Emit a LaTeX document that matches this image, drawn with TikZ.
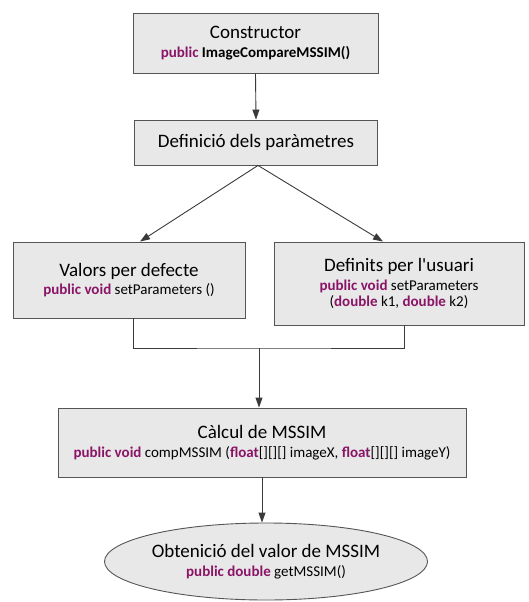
\documentclass[tikz,border=0pt]{standalone}
\usepackage{fontspec}
\setmainfont{Carlito}
\newfontfamily\plainquote{Carlito}[Ligatures=ResetAll]
\usetikzlibrary{arrows.meta,shapes.geometric}
\definecolor{kw}{HTML}{8A1466}
\definecolor{boxfill}{HTML}{E8E8E8}
\definecolor{boxline}{HTML}{555555}
\definecolor{wire}{HTML}{3A3A3A}
\newcommand{\kwd}[1]{\textbf{\textcolor{kw}{#1}}}
\newcommand{\ttl}[1]{{\fontsize{19}{19}\selectfont #1}}
\newcommand{\squote}{{\plainquote\symbol{39}}}
\tikzset{
  stepbox/.style={draw=boxline, fill=boxfill, line width=0.9pt, align=center,
    inner sep=2pt, font=\fontsize{15}{18.5}\selectfont},
  endbox/.style={ellipse, draw=boxline, fill=boxfill, line width=0.9pt, align=center,
    inner sep=0pt, font=\fontsize{15}{18.5}\selectfont},
  flow/.style={draw=wire, line width=0.9pt, -{Triangle[length=10pt,width=7pt]}},
  plain/.style={draw=wire, line width=0.9pt}
}
\begin{document}
\begin{tikzpicture}[x=1pt,y=-1pt]
\useasboundingbox (0,0) rectangle (529,602);

\node[stepbox, minimum width=245pt, minimum height=60pt] (ctor) at (255.5,43)
  {\ttl{Constructor}\\\kwd{public} \textbf{ImageCompareMSSIM()}};

\node[stepbox, minimum width=243pt, minimum height=45pt] (def) at (256,142.5)
  {\ttl{Definició dels paràmetres}};

\node[stepbox, minimum width=232pt, minimum height=76pt] (vd) at (129,280)
  {\ttl{Valors per defecte}\\\kwd{public void} setParameters ()};

\node[stepbox, minimum width=250pt, minimum height=83pt] (du) at (399,283.5)
  {\ttl{Definits per l\squote usuari}\\\kwd{public void} setParameters\\[-2pt](\kwd{double} k1, \kwd{double} k2)};

\node[stepbox, minimum width=408pt, minimum height=69pt] (calc) at (262,442.5)
  {\ttl{Càlcul de MSSIM}\\\kwd{public void} compMSSIM (\kwd{float}[][][] imageX, \kwd{float}[][][] imageY)};

\node[endbox, minimum width=289pt, minimum height=77pt] (get) at (266,561.5)
  {\ttl{Obtenició del valor de MSSIM}\\\kwd{public double} getMSSIM()};

% sequence of calls
\draw[flow] (ctor.south) -- (def.north);
\draw[flow] ([xshift=2pt]def.south) -- ([xshift=11pt]vd.north);
\draw[flow] ([xshift=2pt]def.south) -- ([xshift=-16pt]du.north);

% both parameter paths join before the computation
\coordinate (join) at (259,348);
\draw[plain] ([xshift=4pt]vd.south) |- (join) -| ([xshift=5pt]du.south);
\draw[flow] (join) -- (join |- calc.north);

\draw[flow] (calc.south) -- (calc.south |- get.north);
\end{tikzpicture}
\end{document}
